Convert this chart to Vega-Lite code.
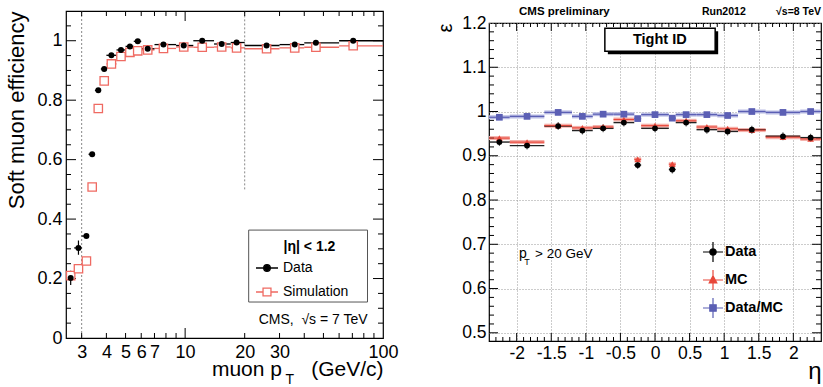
{
  "$schema": "https://vega.github.io/schema/vega-lite/v6.json",
  "padding": {"left": 5, "top": 5, "right": 0, "bottom": 0},
  "config": {
    "font": "Liberation Sans",
    "view": {"stroke": "black", "strokeWidth": 1.2},
    "axis": {"labelFont": "Liberation Sans", "titleFont": "Liberation Sans", "labelColor": "black", "titleColor": "black", "titleFontWeight": "normal", "domain": false, "grid": false, "ticks": false, "labelFlush": false, "labelOverlap": false},
    "legend": {"labelFont": "Liberation Sans", "titleFont": "Liberation Sans", "labelColor": "black", "titleColor": "black"},
    "text": {"font": "Liberation Sans"}
  },
  "datasets": {
    "left": [
      {"lo": 2.5, "hi": 2.75, "pt": 2.64, "data": 0.202, "sim": 0.21, "dlo": 0.178, "dhi": 0.226},
      {"lo": 2.75, "hi": 3.0, "pt": 2.89, "data": 0.303, "sim": 0.233, "dlo": 0.28, "dhi": 0.328},
      {"lo": 3.0, "hi": 3.25, "pt": 3.17, "data": 0.343, "sim": 0.259},
      {"lo": 3.25, "hi": 3.5, "pt": 3.39, "data": 0.618, "sim": 0.508},
      {"lo": 3.5, "hi": 3.75, "pt": 3.64, "data": 0.833, "sim": 0.772},
      {"lo": 3.75, "hi": 4.0, "pt": 3.9, "data": 0.905, "sim": 0.865},
      {"lo": 4.0, "hi": 4.5, "pt": 4.24, "data": 0.951, "sim": 0.922},
      {"lo": 4.5, "hi": 5.0, "pt": 4.74, "data": 0.969, "sim": 0.947},
      {"lo": 5.0, "hi": 5.5, "pt": 5.26, "data": 0.981, "sim": 0.961},
      {"lo": 5.5, "hi": 6.0, "pt": 5.76, "data": 0.998, "sim": 0.966},
      {"lo": 6, "hi": 7, "pt": 6.47, "data": 0.973, "sim": 0.969},
      {"lo": 7, "hi": 9, "pt": 7.77, "data": 0.987, "sim": 0.974},
      {"lo": 9, "hi": 11, "pt": 9.84, "data": 0.984, "sim": 0.979},
      {"lo": 11, "hi": 14, "pt": 12.2, "data": 1.0, "sim": 0.978},
      {"lo": 14, "hi": 17, "pt": 15.3, "data": 0.989, "sim": 0.979},
      {"lo": 17, "hi": 20, "pt": 18.2, "data": 0.994, "sim": 0.976},
      {"lo": 20, "hi": 30, "pt": 25.8, "data": 0.984, "sim": 0.973},
      {"lo": 30, "hi": 40, "pt": 35.8, "data": 0.987, "sim": 0.976},
      {"lo": 40, "hi": 60, "pt": 45.8, "data": 0.993, "sim": 0.978},
      {"lo": 60, "hi": 100, "pt": 70.7, "data": 1.0, "sim": 0.983}
    ],
    "right": [
      {"lo": -2.4, "hi": -2.1, "eta": -2.25, "data": 0.931, "mc": 0.94, "ratio": 0.987},
      {"lo": -2.1, "hi": -1.6, "eta": -1.85, "data": 0.923, "mc": 0.931, "ratio": 0.989},
      {"lo": -1.6, "hi": -1.2, "eta": -1.4, "data": 0.967, "mc": 0.968, "ratio": 0.998},
      {"lo": -1.2, "hi": -0.9, "eta": -1.05, "data": 0.957, "mc": 0.963, "ratio": 0.989},
      {"lo": -0.9, "hi": -0.6, "eta": -0.75, "data": 0.962, "mc": 0.965, "ratio": 0.994},
      {"lo": -0.6, "hi": -0.3, "eta": -0.45, "data": 0.975, "mc": 0.982, "ratio": 0.994},
      {"lo": -0.3, "hi": -0.2, "eta": -0.25, "data": 0.879, "mc": 0.892, "ratio": 0.984},
      {"lo": -0.2, "hi": 0.2, "eta": 0.0, "data": 0.962, "mc": 0.968, "ratio": 0.993},
      {"lo": 0.2, "hi": 0.3, "eta": 0.25, "data": 0.869, "mc": 0.881, "ratio": 0.985},
      {"lo": 0.3, "hi": 0.6, "eta": 0.45, "data": 0.975, "mc": 0.979, "ratio": 0.993},
      {"lo": 0.6, "hi": 0.9, "eta": 0.75, "data": 0.959, "mc": 0.965, "ratio": 0.993},
      {"lo": 0.9, "hi": 1.2, "eta": 1.05, "data": 0.955, "mc": 0.961, "ratio": 0.991},
      {"lo": 1.2, "hi": 1.6, "eta": 1.4, "data": 0.959, "mc": 0.958, "ratio": 1.0},
      {"lo": 1.6, "hi": 2.1, "eta": 1.85, "data": 0.944, "mc": 0.942, "ratio": 0.998},
      {"lo": 2.1, "hi": 2.4, "eta": 2.25, "data": 0.941, "mc": 0.938, "ratio": 1.0}
    ],
    "lseries": [{"s": "Data"}, {"s": "Simulation"}],
    "rseries": [{"s": "Data"}, {"s": "MC"}, {"s": "Data/MC"}],
    "one": [{}],
    "lyMaj": [{"v": 0.2}, {"v": 0.4}, {"v": 0.6}, {"v": 0.8}, {"v": 1}],
    "lyMin": [{"v": 0.05}, {"v": 0.1}, {"v": 0.15}, {"v": 0.25}, {"v": 0.3}, {"v": 0.35}, {"v": 0.45}, {"v": 0.5}, {"v": 0.55}, {"v": 0.65}, {"v": 0.7}, {"v": 0.75}, {"v": 0.85}, {"v": 0.9}, {"v": 0.95}, {"v": 1.05}],
    "lxMaj": [{"v": 10}],
    "lxMin": [{"v": 3}, {"v": 4}, {"v": 5}, {"v": 6}, {"v": 7}, {"v": 8}, {"v": 9}, {"v": 20}, {"v": 30}, {"v": 40}, {"v": 50}, {"v": 60}, {"v": 70}, {"v": 80}, {"v": 90}],
    "ryMaj": [{"v": 0.5}, {"v": 0.6}, {"v": 0.7}, {"v": 0.8}, {"v": 0.9}, {"v": 1}, {"v": 1.1}],
    "ryMin": [{"v": 0.52}, {"v": 0.54}, {"v": 0.56}, {"v": 0.58}, {"v": 0.62}, {"v": 0.64}, {"v": 0.66}, {"v": 0.68}, {"v": 0.72}, {"v": 0.74}, {"v": 0.76}, {"v": 0.78}, {"v": 0.82}, {"v": 0.84}, {"v": 0.86}, {"v": 0.88}, {"v": 0.92}, {"v": 0.94}, {"v": 0.96}, {"v": 0.98}, {"v": 1.02}, {"v": 1.04}, {"v": 1.06}, {"v": 1.08}, {"v": 1.12}, {"v": 1.14}, {"v": 1.16}, {"v": 1.18}],
    "rxMaj": [{"v": -2}, {"v": -1.5}, {"v": -1}, {"v": -0.5}, {"v": 0}, {"v": 0.5}, {"v": 1}, {"v": 1.5}, {"v": 2}],
    "rxMin": [{"v": -2.3}, {"v": -2.2}, {"v": -2.1}, {"v": -1.9}, {"v": -1.8}, {"v": -1.7}, {"v": -1.6}, {"v": -1.4}, {"v": -1.3}, {"v": -1.2}, {"v": -1.1}, {"v": -0.9}, {"v": -0.8}, {"v": -0.7}, {"v": -0.6}, {"v": -0.4}, {"v": -0.3}, {"v": -0.2}, {"v": -0.1}, {"v": 0.1}, {"v": 0.2}, {"v": 0.3}, {"v": 0.4}, {"v": 0.6}, {"v": 0.7}, {"v": 0.8}, {"v": 0.9}, {"v": 1.1}, {"v": 1.2}, {"v": 1.3}, {"v": 1.4}, {"v": 1.6}, {"v": 1.7}, {"v": 1.8}, {"v": 1.9}, {"v": 2.1}, {"v": 2.2}, {"v": 2.3}]
  },
  "hconcat": [
    {
      "width": 317,
      "height": 327,
      "data": {"name": "left"},
      "layer": [
        {
          "mark": {"type": "rule", "color": "#ef6a62", "strokeWidth": 1.3},
          "encoding": {
            "x": {"field": "lo", "type": "quantitative", "scale": {"type": "log", "domain": [2.5, 100], "nice": false},
              "axis": {"orient": "bottom", "values": [3, 4, 5, 6, 7, 10, 20, 30, 100], "labelExpr": "'' + datum.value", "ticks": false, "labelFontSize": 18, "labelPadding": 5, "title": "muon p\u00a0\u00a0\u00a0\u00a0\u00a0(GeV/c)", "titleFontSize": 21, "titleAnchor": "end", "titlePadding": -3}},
            "x2": {"field": "hi"},
            "y": {"field": "sim", "type": "quantitative", "scale": {"domain": [0, 1.1], "nice": false, "zero": false},
              "axis": {"orient": "left", "values": [0, 0.2, 0.4, 0.6, 0.8, 1], "labelExpr": "'' + datum.value", "ticks": false, "labelFontSize": 18, "labelPadding": 4, "title": "Soft muon efficiency", "titleFontSize": 22, "titleAnchor": "end", "titlePadding": 8}}
          }
        },
        {
          "data": {"name": "one"},
          "mark": {"type": "rule", "color": "#888888", "strokeDash": [2, 2], "strokeWidth": 1},
          "encoding": {"x": {"datum": 3, "type": "quantitative", "axis": null}}
        },
        {
          "data": {"name": "one"},
          "mark": {"type": "rule", "color": "#888888", "strokeDash": [2, 2], "strokeWidth": 1},
          "encoding": {
            "x": {"datum": 20, "type": "quantitative", "axis": null},
            "y": {"datum": 0.5, "type": "quantitative", "axis": null},
            "y2": {"datum": 1.1}
          }
        },
        {
          "data": {"name": "lyMaj"},
          "mark": {"type": "rule", "color": "black", "strokeWidth": 1, "x2Offset": 10},
          "encoding": {"x": {"datum": 2.5, "type": "quantitative", "axis": null}, "x2": {"datum": 2.5}, "y": {"field": "v", "type": "quantitative", "axis": null}}
        },
        {
          "data": {"name": "lyMaj"},
          "mark": {"type": "rule", "color": "black", "strokeWidth": 1, "x2Offset": -10},
          "encoding": {"x": {"datum": 100, "type": "quantitative", "axis": null}, "x2": {"datum": 100}, "y": {"field": "v", "type": "quantitative", "axis": null}}
        },
        {
          "data": {"name": "lyMin"},
          "mark": {"type": "rule", "color": "black", "strokeWidth": 1, "x2Offset": 5},
          "encoding": {"x": {"datum": 2.5, "type": "quantitative", "axis": null}, "x2": {"datum": 2.5}, "y": {"field": "v", "type": "quantitative", "axis": null}}
        },
        {
          "data": {"name": "lyMin"},
          "mark": {"type": "rule", "color": "black", "strokeWidth": 1, "x2Offset": -5},
          "encoding": {"x": {"datum": 100, "type": "quantitative", "axis": null}, "x2": {"datum": 100}, "y": {"field": "v", "type": "quantitative", "axis": null}}
        },
        {
          "data": {"name": "lxMaj"},
          "mark": {"type": "rule", "color": "black", "strokeWidth": 1, "y2Offset": -10},
          "encoding": {"y": {"datum": 0, "type": "quantitative", "axis": null}, "y2": {"datum": 0}, "x": {"field": "v", "type": "quantitative", "axis": null}}
        },
        {
          "data": {"name": "lxMaj"},
          "mark": {"type": "rule", "color": "black", "strokeWidth": 1, "y2Offset": 10},
          "encoding": {"y": {"datum": 1.1, "type": "quantitative", "axis": null}, "y2": {"datum": 1.1}, "x": {"field": "v", "type": "quantitative", "axis": null}}
        },
        {
          "data": {"name": "lxMin"},
          "mark": {"type": "rule", "color": "black", "strokeWidth": 1, "y2Offset": -5},
          "encoding": {"y": {"datum": 0, "type": "quantitative", "axis": null}, "y2": {"datum": 0}, "x": {"field": "v", "type": "quantitative", "axis": null}}
        },
        {
          "data": {"name": "lxMin"},
          "mark": {"type": "rule", "color": "black", "strokeWidth": 1, "y2Offset": 5},
          "encoding": {"y": {"datum": 1.1, "type": "quantitative", "axis": null}, "y2": {"datum": 1.1}, "x": {"field": "v", "type": "quantitative", "axis": null}}
        },
        {
          "data": {"name": "one"},
          "mark": {"type": "rect", "fill": "white", "stroke": "#555555", "strokeWidth": 1},
          "encoding": {
            "x": {"datum": 20.95, "type": "quantitative", "axis": null},
            "x2": {"datum": 83.5},
            "y": {"datum": 0.363, "type": "quantitative", "axis": null},
            "y2": {"datum": 0.121}
          }
        },
        {
          "mark": {"type": "rule", "color": "black", "strokeWidth": 1.3},
          "encoding": {
            "x": {"field": "lo", "type": "quantitative", "axis": null},
            "x2": {"field": "hi"},
            "y": {"field": "data", "type": "quantitative", "axis": null}
          }
        },
        {
          "mark": {"type": "rule", "color": "black", "strokeWidth": 1.2},
          "encoding": {
            "x": {"field": "pt", "type": "quantitative", "axis": null},
            "y": {"field": "dlo", "type": "quantitative", "axis": null},
            "y2": {"field": "dhi"}
          }
        },
        {
          "mark": {"type": "point", "shape": "square", "filled": true, "fill": "white", "stroke": "#ef6a62", "strokeWidth": 1.3, "size": 70, "opacity": 1},
          "encoding": {
            "x": {"field": "pt", "type": "quantitative", "axis": null},
            "y": {"field": "sim", "type": "quantitative", "axis": null}
          }
        },
        {
          "mark": {"type": "point", "shape": "circle", "filled": true, "color": "black", "size": 36, "opacity": 1},
          "encoding": {
            "x": {"field": "pt", "type": "quantitative", "axis": null},
            "y": {"field": "data", "type": "quantitative", "axis": null}
          }
        },
        {
          "data": {"name": "one"},
          "mark": {"type": "text", "text": "CMS,\u00a0 \u221as = 7 TeV", "align": "right", "baseline": "middle", "fontSize": 14, "color": "black"},
          "encoding": {
            "x": {"datum": 83.6, "type": "quantitative", "axis": null},
            "y": {"datum": 0.062, "type": "quantitative", "axis": null}
          }
        },
        {
          "data": {"name": "one"},
          "mark": {"type": "text", "text": "|\u03b7| < 1.2", "align": "center", "baseline": "middle", "fontSize": 14, "fontWeight": "bold", "color": "black"},
          "encoding": {
            "x": {"datum": 42.5, "type": "quantitative", "axis": null},
            "y": {"datum": 0.307, "type": "quantitative", "axis": null}
          }
        },
        {
          "data": {"name": "one"},
          "mark": {"type": "text", "text": "T", "align": "center", "baseline": "middle", "fontSize": 14, "color": "black"},
          "encoding": {
            "x": {"datum": 33.8, "type": "quantitative", "axis": null},
            "y": {"datum": -0.141, "type": "quantitative", "axis": null}
          }
        },
        {
          "data": {"name": "lseries"},
          "mark": {"type": "point", "filled": true, "clip": true, "size": 10},
          "encoding": {
            "x": {"datum": 1, "type": "quantitative", "axis": null},
            "y": {"datum": -1, "type": "quantitative", "axis": null},
            "shape": {"field": "s", "type": "nominal",
              "scale": {"domain": ["Data", "Simulation"], "range": ["M-1,0H1M-0.3,0A0.3,0.3,0,1,1,0.3,0A0.3,0.3,0,1,1,-0.3,0Z", "M-1,0H-0.36M0.36,0H1M-0.36,-0.36H0.36V0.36H-0.36Z"]},
              "legend": {"orient": "none", "legendX": 184, "legendY": 240, "title": null, "labelFontSize": 14, "symbolSize": 484, "symbolStrokeWidth": 1.3, "rowPadding": 5, "labelOffset": 4, "padding": 5, "symbolOpacity": 1}},
            "fill": {"field": "s", "type": "nominal", "scale": {"domain": ["Data", "Simulation"], "range": ["black", "white"]}},
            "stroke": {"field": "s", "type": "nominal", "scale": {"domain": ["Data", "Simulation"], "range": ["black", "#ef6a62"]}}
          }
        }
      ],
      "resolve": {"axis": {"x": "independent", "y": "independent"}}
    },
    {
      "vconcat": [
        {
          "width": 332,
          "height": 1,
          "view": {"stroke": null},
          "data": {"name": "one"},
          "layer": [
            {
              "mark": {"type": "text", "text": "CMS preliminary", "align": "left", "baseline": "middle", "fontWeight": "bold", "fontSize": 11.5, "color": "black"},
              "encoding": {"x": {"datum": -1.966, "type": "quantitative", "scale": {"domain": [-2.4, 2.4], "nice": false, "zero": false}, "axis": null}}
            },
            {
              "mark": {"type": "text", "text": "Run2012", "align": "left", "baseline": "middle", "fontWeight": "bold", "fontSize": 10.5, "color": "black"},
              "encoding": {"x": {"datum": 0.679, "type": "quantitative", "axis": null}}
            },
            {
              "mark": {"type": "text", "text": "\u221as=8 TeV", "align": "right", "baseline": "middle", "fontWeight": "bold", "fontSize": 10.5, "color": "black"},
              "encoding": {"x": {"datum": 2.4, "type": "quantitative", "axis": null}}
            }
          ]
        },
        {
          "width": 332,
          "height": 318,
          "data": {"name": "right"},
          "layer": [
            {
              "mark": {"type": "rule", "color": "#f5b0aa", "strokeWidth": 4},
              "encoding": {
                "x": {"field": "lo", "type": "quantitative", "scale": {"domain": [-2.4, 2.4], "nice": false, "zero": false},
                  "axis": {"orient": "bottom", "values": [-2, -1.5, -1, -0.5, 0, 0.5, 1, 1.5, 2], "labelExpr": "'' + datum.value", "ticks": false, "grid": true, "gridDash": [1, 2], "gridColor": "#999999", "labelFontSize": 17.5, "labelPadding": 3, "title": "\u03b7", "titleFontSize": 24, "titleAnchor": "end", "titlePadding": -2}},
                "x2": {"field": "hi"},
                "y": {"field": "mc", "type": "quantitative", "scale": {"domain": [0.4815, 1.2], "nice": false, "zero": false},
                  "axis": {"orient": "left", "values": [0.5, 0.6, 0.7, 0.8, 0.9, 1, 1.1, 1.2], "labelExpr": "'' + datum.value", "ticks": false, "grid": true, "gridDash": [1, 2], "gridColor": "#999999", "labelFontSize": 17.5, "labelPadding": 3, "title": "\u03b5", "titleFontSize": 20, "titleAnchor": "end", "titlePadding": 6}}
              }
            },
            {
              "data": {"name": "ryMaj"},
              "mark": {"type": "rule", "color": "black", "strokeWidth": 1, "x2Offset": 9},
              "encoding": {"x": {"datum": -2.4, "type": "quantitative", "axis": null}, "x2": {"datum": -2.4}, "y": {"field": "v", "type": "quantitative", "axis": null}}
            },
            {
              "data": {"name": "ryMaj"},
              "mark": {"type": "rule", "color": "black", "strokeWidth": 1, "x2Offset": -9},
              "encoding": {"x": {"datum": 2.4, "type": "quantitative", "axis": null}, "x2": {"datum": 2.4}, "y": {"field": "v", "type": "quantitative", "axis": null}}
            },
            {
              "data": {"name": "ryMin"},
              "mark": {"type": "rule", "color": "black", "strokeWidth": 1, "x2Offset": 5},
              "encoding": {"x": {"datum": -2.4, "type": "quantitative", "axis": null}, "x2": {"datum": -2.4}, "y": {"field": "v", "type": "quantitative", "axis": null}}
            },
            {
              "data": {"name": "ryMin"},
              "mark": {"type": "rule", "color": "black", "strokeWidth": 1, "x2Offset": -5},
              "encoding": {"x": {"datum": 2.4, "type": "quantitative", "axis": null}, "x2": {"datum": 2.4}, "y": {"field": "v", "type": "quantitative", "axis": null}}
            },
            {
              "data": {"name": "rxMaj"},
              "mark": {"type": "rule", "color": "black", "strokeWidth": 1, "y2Offset": -8},
              "encoding": {"y": {"datum": 0.4815, "type": "quantitative", "axis": null}, "y2": {"datum": 0.4815}, "x": {"field": "v", "type": "quantitative", "axis": null}}
            },
            {
              "data": {"name": "rxMaj"},
              "mark": {"type": "rule", "color": "black", "strokeWidth": 1, "y2Offset": 8},
              "encoding": {"y": {"datum": 1.2, "type": "quantitative", "axis": null}, "y2": {"datum": 1.2}, "x": {"field": "v", "type": "quantitative", "axis": null}}
            },
            {
              "data": {"name": "rxMin"},
              "mark": {"type": "rule", "color": "black", "strokeWidth": 1, "y2Offset": -4},
              "encoding": {"y": {"datum": 0.4815, "type": "quantitative", "axis": null}, "y2": {"datum": 0.4815}, "x": {"field": "v", "type": "quantitative", "axis": null}}
            },
            {
              "data": {"name": "rxMin"},
              "mark": {"type": "rule", "color": "black", "strokeWidth": 1, "y2Offset": 4},
              "encoding": {"y": {"datum": 1.2, "type": "quantitative", "axis": null}, "y2": {"datum": 1.2}, "x": {"field": "v", "type": "quantitative", "axis": null}}
            },
            {
              "mark": {"type": "rule", "color": "#b8bbe3", "strokeWidth": 4},
              "encoding": {
                "x": {"field": "lo", "type": "quantitative", "axis": null},
                "x2": {"field": "hi"},
                "y": {"field": "ratio", "type": "quantitative", "axis": null}
              }
            },
            {
              "mark": {"type": "rule", "color": "#222222", "strokeWidth": 1.4},
              "encoding": {
                "x": {"field": "lo", "type": "quantitative", "axis": null},
                "x2": {"field": "hi"},
                "y": {"field": "data", "type": "quantitative", "axis": null}
              }
            },
            {
              "mark": {"type": "rule", "color": "#e8473a", "strokeWidth": 1.2},
              "encoding": {
                "x": {"field": "lo", "type": "quantitative", "axis": null},
                "x2": {"field": "hi"},
                "y": {"field": "mc", "type": "quantitative", "axis": null}
              }
            },
            {
              "mark": {"type": "rule", "color": "#5b5fb4", "strokeWidth": 1.2},
              "encoding": {
                "x": {"field": "lo", "type": "quantitative", "axis": null},
                "x2": {"field": "hi"},
                "y": {"field": "ratio", "type": "quantitative", "axis": null}
              }
            },
            {
              "mark": {"type": "tick", "orient": "vertical", "color": "black", "size": 8, "thickness": 1},
              "encoding": {
                "x": {"field": "eta", "type": "quantitative", "axis": null},
                "y": {"field": "data", "type": "quantitative", "axis": null}
              }
            },
            {
              "mark": {"type": "point", "shape": "triangle-up", "filled": true, "color": "#e8473a", "size": 45, "opacity": 1},
              "encoding": {
                "x": {"field": "eta", "type": "quantitative", "axis": null},
                "y": {"field": "mc", "type": "quantitative", "axis": null}
              }
            },
            {
              "mark": {"type": "point", "shape": "circle", "filled": true, "color": "black", "size": 34, "opacity": 1},
              "encoding": {
                "x": {"field": "eta", "type": "quantitative", "axis": null},
                "y": {"field": "data", "type": "quantitative", "axis": null}
              }
            },
            {
              "mark": {"type": "point", "shape": "square", "filled": true, "color": "#5b5fb4", "size": 45, "opacity": 1},
              "encoding": {
                "x": {"field": "eta", "type": "quantitative", "axis": null},
                "y": {"field": "ratio", "type": "quantitative", "axis": null}
              }
            },
            {
              "data": {"name": "one"},
              "mark": {"type": "rect", "color": "black", "xOffset": 3, "x2Offset": 3, "yOffset": 3, "y2Offset": 3},
              "encoding": {
                "x": {"datum": -0.725, "type": "quantitative", "axis": null},
                "x2": {"datum": 0.87},
                "y": {"datum": 1.188, "type": "quantitative", "axis": null},
                "y2": {"datum": 1.136}
              }
            },
            {
              "data": {"name": "one"},
              "mark": {"type": "rect", "fill": "white", "stroke": "black", "strokeWidth": 1.5},
              "encoding": {
                "x": {"datum": -0.725, "type": "quantitative", "axis": null},
                "x2": {"datum": 0.87},
                "y": {"datum": 1.188, "type": "quantitative", "axis": null},
                "y2": {"datum": 1.136}
              }
            },
            {
              "data": {"name": "one"},
              "mark": {"type": "text", "text": "Tight ID", "align": "center", "baseline": "middle", "fontWeight": "bold", "fontSize": 14.5, "color": "black"},
              "encoding": {
                "x": {"datum": 0.07, "type": "quantitative", "axis": null},
                "y": {"datum": 1.162, "type": "quantitative", "axis": null}
              }
            },
            {
              "data": {"name": "one"},
              "mark": {"type": "text", "text": "p", "align": "left", "baseline": "alphabetic", "fontSize": 14, "color": "black"},
              "encoding": {
                "x": {"datum": -1.966, "type": "quantitative", "axis": null},
                "y": {"datum": 0.67, "type": "quantitative", "axis": null}
              }
            },
            {
              "data": {"name": "one"},
              "mark": {"type": "text", "text": "T", "align": "center", "baseline": "alphabetic", "fontSize": 9, "color": "black"},
              "encoding": {
                "x": {"datum": -1.85, "type": "quantitative", "axis": null},
                "y": {"datum": 0.654, "type": "quantitative", "axis": null}
              }
            },
            {
              "data": {"name": "one"},
              "mark": {"type": "text", "text": "> 20 GeV", "align": "left", "baseline": "alphabetic", "fontSize": 13.5, "color": "black"},
              "encoding": {
                "x": {"datum": -1.735, "type": "quantitative", "axis": null},
                "y": {"datum": 0.67, "type": "quantitative", "axis": null}
              }
            },
            {
              "data": {"name": "rseries"},
              "mark": {"type": "point", "filled": true, "clip": true, "size": 10},
              "encoding": {
                "x": {"datum": -10, "type": "quantitative", "axis": null},
                "y": {"datum": 0, "type": "quantitative", "axis": null},
                "shape": {"field": "s", "type": "nominal",
                  "scale": {"domain": ["Data", "MC", "Data/MC"], "range": ["M-1,0H1M0,-1V1M-0.32,0A0.32,0.32,0,1,1,0.32,0A0.32,0.32,0,1,1,-0.32,0Z", "M-1,0H1M0,-1V1M0,-0.42L0.38,0.3L-0.38,0.3Z", "M-1,0H1M0,-1V1M-0.32,-0.32H0.32V0.32H-0.32Z"]},
                  "legend": {"orient": "none", "legendX": 213, "legendY": 230, "title": null, "labelFontSize": 14.5, "labelFontWeight": "bold", "symbolSize": 400, "symbolStrokeWidth": 1.2, "rowPadding": 2, "labelOffset": 1, "padding": 0, "symbolOpacity": 1}},
                "fill": {"field": "s", "type": "nominal", "scale": {"domain": ["Data", "MC", "Data/MC"], "range": ["black", "#e8473a", "#5b5fb4"]}},
                "stroke": {"field": "s", "type": "nominal", "scale": {"domain": ["Data", "MC", "Data/MC"], "range": ["black", "#e8473a", "#5b5fb4"]}}
              }
            }
          ],
          "resolve": {"axis": {"x": "independent", "y": "independent"}}
        }
      ],
      "spacing": -4
    }
  ],
  "spacing": 36,
  "resolve": {
    "scale": {"x": "independent", "y": "independent", "shape": "independent", "fill": "independent", "stroke": "independent"},
    "legend": {"shape": "independent", "fill": "independent", "stroke": "independent"}
  }
}
